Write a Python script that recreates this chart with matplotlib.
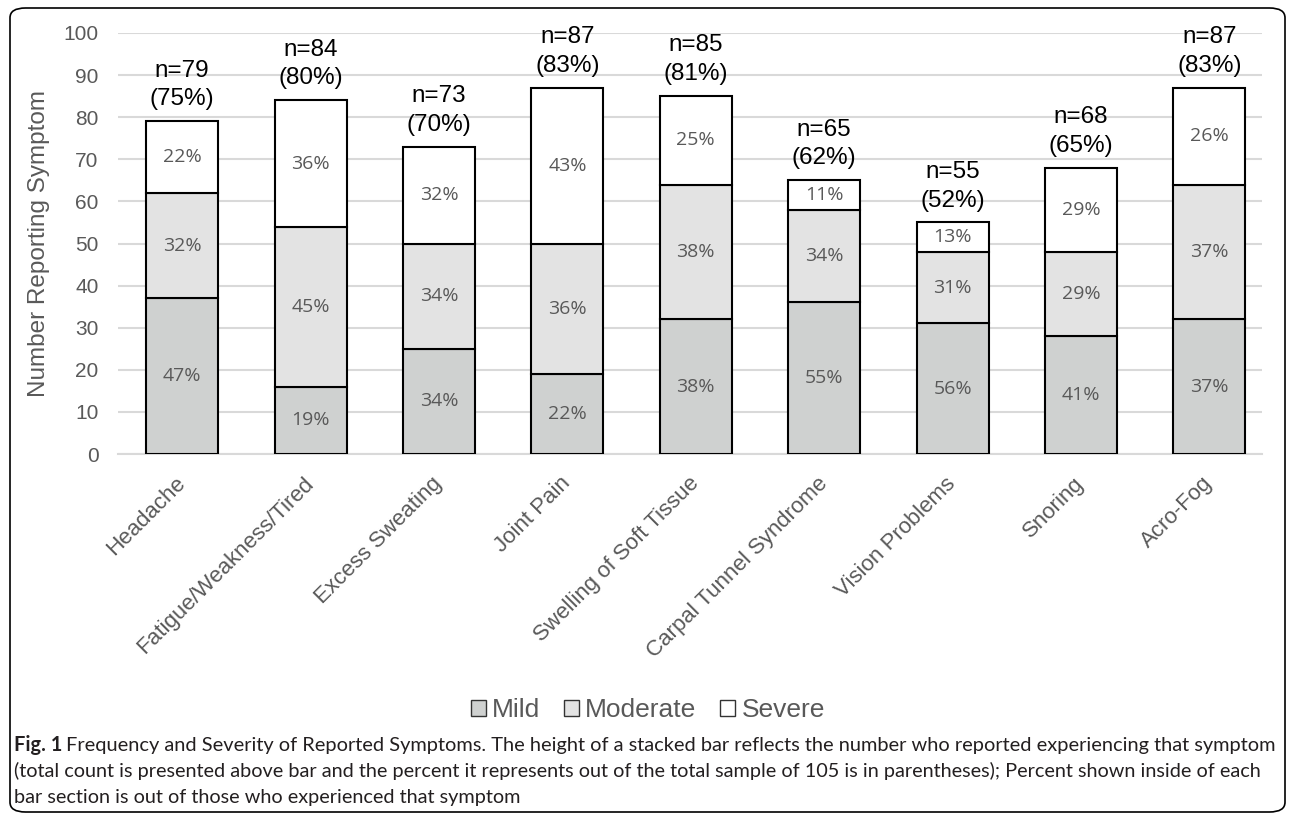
import matplotlib.pyplot as plt
import numpy as np
from matplotlib import font_manager
from matplotlib.patches import FancyBboxPatch, Patch

symptoms = ["Headache", "Fatigue/Weakness/Tired", "Excess Sweating", "Joint Pain",
            "Swelling of Soft Tissue", "Carpal Tunnel Syndrome", "Vision Problems",
            "Snoring", "Acro-Fog"]
mild = [37, 16, 25, 19, 32, 36, 31, 28, 32]
moderate = [25, 38, 25, 31, 32, 22, 17, 20, 32]
severe = [17, 30, 23, 37, 21, 7, 7, 20, 23]
mild_pct = ["47%", "19%", "34%", "22%", "38%", "55%", "56%", "41%", "37%"]
moderate_pct = ["32%", "45%", "34%", "36%", "38%", "34%", "31%", "29%", "37%"]
severe_pct = ["22%", "36%", "32%", "43%", "25%", "11%", "13%", "29%", "26%"]
sample_pct = ["75%", "80%", "70%", "83%", "81%", "62%", "52%", "65%", "83%"]

caption_bold = "Fig. 1"
caption_lines = [
    "Frequency and Severity of Reported Symptoms. The height of a stacked bar reflects the number who reported experiencing that symptom",
    "(total count is presented above bar and the percent it represents out of the total sample of 105 is in parentheses); Percent shown inside of each",
    "bar section is out of those who experienced that symptom",
]

plt.rcParams["font.family"] = ["Liberation Sans", "DejaVu Sans"]


def has_font(name):
    try:
        font_manager.findfont(font_manager.FontProperties(family=name), fallback_to_default=False)
        return True
    except Exception:
        return False


cap_family = "Liberation Sans Narrow" if has_font("Liberation Sans Narrow") else "Lato"

grey = "#595959"
W, H = 1292, 814
fig = plt.figure(figsize=(W / 100, H / 100), dpi=100)
ax = fig.add_axes([118 / W, 1 - 454 / H, 1144 / W, 421 / H])

x = np.arange(len(symptoms))
mild_a = np.array(mild)
mod_a = np.array(moderate)
sev_a = np.array(severe)
w = 0.56
kw = dict(width=w, edgecolor="black", linewidth=1.5, zorder=3)
ax.bar(x, mild_a, color="#cfd1d0", label="Mild", **kw)
ax.bar(x, mod_a, bottom=mild_a, color="#e3e3e3", label="Moderate", **kw)
ax.bar(x, sev_a, bottom=mild_a + mod_a, color="white", label="Severe", **kw)

pct_font = dict(fontsize=14, color=grey, ha="center", va="center", family="Open Sans", zorder=4)
totals = mild_a + mod_a + sev_a
for i in range(len(x)):
    ax.text(x[i], mild_a[i] / 2, mild_pct[i], **pct_font)
    ax.text(x[i], mild_a[i] + mod_a[i] / 2, moderate_pct[i], **pct_font)
    ax.text(x[i], mild_a[i] + mod_a[i] + sev_a[i] / 2, severe_pct[i], **pct_font)
    ax.text(x[i], totals[i] + 2.6, f"n={totals[i]}\n({sample_pct[i]})", ha="center", va="bottom",
            fontsize=17.5, linespacing=1.4, color="black")

ax.set_xlim(-0.5, 8.41)
ax.set_ylim(0, 100)
ax.set_yticks(range(0, 101, 10))
ax.yaxis.grid(True, color="#d9d9d9", linewidth=1.5, zorder=0)
ax.set_axisbelow(True)
for s in ["top", "right", "left"]:
    ax.spines[s].set_visible(False)
ax.spines["bottom"].set_color("#d9d9d9")
ax.spines["bottom"].set_linewidth(1.5)
ax.tick_params(length=0)
ax.set_xticks(x)
ax.set_xticklabels(symptoms, rotation=45, ha="right", va="center", rotation_mode="anchor",
                   fontsize=16, color=grey)
ax.tick_params(axis="y", labelsize=15, labelcolor=grey, pad=14)
ax.tick_params(axis="x", pad=19)
ax.set_ylabel("Number Reporting Symptom", fontsize=17.5, color=grey, labelpad=10)

handles = [Patch(facecolor="#cfd1d0", edgecolor="#333333", label="Mild"),
           Patch(facecolor="#e3e3e3", edgecolor="#333333", label="Moderate"),
           Patch(facecolor="white", edgecolor="#333333", label="Severe")]
fig.legend(handles=handles, loc="center", bbox_to_anchor=(648 / W, 1 - 710 / H), ncol=3, frameon=False,
           prop={"size": 19}, handlelength=0.55, handleheight=0.55,
           handletextpad=0.25, columnspacing=0.9, labelcolor=grey)

border = FancyBboxPatch((10 / W, 2 / H), 1275 / W, 804 / H, transform=fig.transFigure,
                        boxstyle="round,pad=0,rounding_size=0.012", facecolor="none",
                        edgecolor="black", linewidth=1.2, clip_on=False)
fig.patches.append(border)

# caption: fit each text line to the width it takes in the figure
renderer = fig.canvas.get_renderer()
cap_size = 14
cap_color = "#231f20"
line_y = [745, 771, 797]
bold = fig.text(14 / W, 1 - line_y[0] / H, caption_bold, fontsize=cap_size, family=cap_family,
                weight="bold", ha="left", va="center", color=cap_color)
bx = bold.get_window_extent(renderer).x1 + 5
line_x0 = [bx, 14]
line_x1 = [1277, 1266]
sizes = []
for s, y0, x0, x1 in zip(caption_lines[:2], line_y, line_x0, line_x1):
    t = fig.text(x0 / W, 1 - y0 / H, s, fontsize=cap_size, family=cap_family, ha="left", va="center",
                 color=cap_color)
    wpx = t.get_window_extent(renderer).width
    t.set_fontsize(cap_size * (x1 - x0) / wpx)
    sizes.append(cap_size * (x1 - x0) / wpx)
bold.set_fontsize(sizes[0])
fig.text(14 / W, 1 - line_y[2] / H, caption_lines[2], fontsize=sizes[1], family=cap_family,
         ha="left", va="center", color=cap_color)

fig.savefig("out.png", dpi=100)
